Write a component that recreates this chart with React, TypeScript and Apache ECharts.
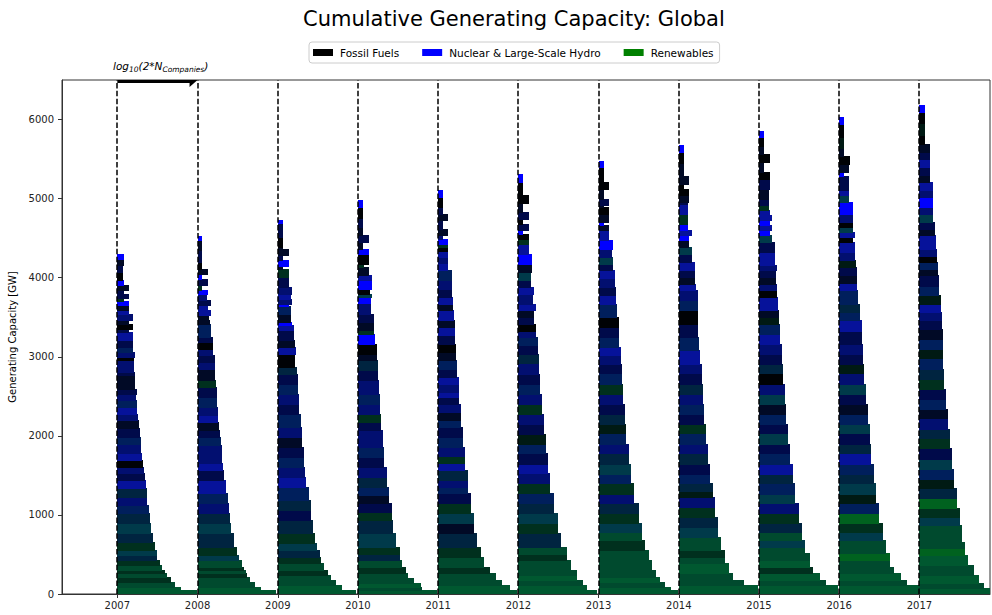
import React, { useEffect, useRef } from 'react';
import * as echarts from 'echarts';

const years = [2007, 2008, 2009, 2010, 2011, 2012, 2013, 2014, 2015, 2016, 2017];
const xTicks = years;
const yTicks = [0, 1000, 2000, 3000, 4000, 5000, 6000];
const legendNames = ['Fossil Fuels', 'Nuclear & Large-Scale Hydro', 'Renewables'];
const legendColors = ['#000000', '#0000ff', '#008000'];

// colour codes of the mixed fuel shares seen in the bands
const paletteKeys = ['B', 'b', 'n', 'N', 'k', 'K', 'c', 's', 't', 'e', 'g', 'G', 'H', 'J'];
const paletteHex = ['#0000ff', '#06129a', '#020f70', '#000a4a', '#010a26', '#000205', '#001f5c', '#002440', '#003a4a', '#001a14', '#00301e', '#004a2e', '#005830', '#00621f'];

// [band top GW, band width in years, colour code]; band bottom = next band top (last band ends at 0)
const bands2007: [number, number, string][] = [
  [4303, 0.083, 'B'], [4240, 0.08, 'k'], [4155, 0.075, 'N'], [4071, 0.075, 'K'], [3966, 0.08, 'B'],
  [3903, 0.15, 'k'], [3848, 0.08, 'N'], [3798, 0.15, 'N'], [3747, 0.08, 'g'], [3705, 0.15, 'B'],
  [3650, 0.145, 'k'], [3587, 0.145, 'b'], [3537, 0.19, 'n'], [3469, 0.145, 'k'], [3419, 0.19, 'K'],
  [3356, 0.145, 'N'], [3314, 0.19, 'b'], [3208, 0.19, 'N'], [3124, 0.19, 'c'], [3061, 0.22, 'n'],
  [2998, 0.21, 'K'], [2956, 0.21, 'n'], [2808, 0.22, 'N'], [2766, 0.22, 'k'], [2598, 0.25, 'N'],
  [2535, 0.23, 'n'], [2450, 0.25, 'c'], [2366, 0.25, 'b'], [2282, 0.26, 'n'], [2198, 0.27, 'k'],
  [2093, 0.28, 'N'], [1987, 0.29, 'c'], [1903, 0.3, 'n'], [1777, 0.31, 'b'], [1693, 0.32, 'K'],
  [1609, 0.33, 'n'], [1524, 0.345, 'N'], [1440, 0.355, 'b'], [1335, 0.365, 's'], [1229, 0.375, 'n'],
  [1124, 0.39, 'c'], [1019, 0.405, 's'], [893, 0.425, 't'], [766, 0.45, 's'], [661, 0.47, 'g'],
  [556, 0.49, 't'], [493, 0.5, 's'], [429, 0.53, 'g'], [366, 0.56, 'G'], [303, 0.59, 'g'],
  [261, 0.625, 'G'], [210, 0.67, 'g'], [156, 0.72, 'G'], [93, 0.79, 'H'], [51, 0.99, 'H'],
];
const bands2008: [number, number, string][] = [
  [4522, 0.054, 'B'], [4471, 0.054, 'k'], [4350, 0.054, 'N'], [4200, 0.054, 'K'], [4113, 0.125, 'k'],
  [4050, 0.054, 'B'], [3987, 0.125, 'N'], [3903, 0.06, 'g'], [3848, 0.125, 'B'], [3798, 0.12, 'n'],
  [3713, 0.167, 'N'], [3650, 0.125, 'b'], [3587, 0.167, 'b'], [3524, 0.146, 'k'], [3461, 0.154, 'k'],
  [3419, 0.167, 'c'], [3250, 0.19, 'N'], [3187, 0.19, 'K'], [3103, 0.196, 'n'], [3019, 0.213, 'N'],
  [2935, 0.217, 'n'], [2850, 0.22, 'k'], [2703, 0.23, 'g'], [2619, 0.24, 'N'], [2490, 0.24, 'c'],
  [2366, 0.25, 'n'], [2261, 0.26, 'b'], [2177, 0.27, 'k'], [2072, 0.28, 'N'], [1987, 0.29, 'c'],
  [1880, 0.3, 'n'], [1777, 0.31, 'n'], [1660, 0.32, 'b'], [1566, 0.33, 'N'], [1440, 0.355, 'b'],
  [1272, 0.375, 'c'], [1145, 0.39, 'n'], [1019, 0.4, 's'], [893, 0.42, 't'], [766, 0.46, 's'],
  [598, 0.49, 'g'], [493, 0.52, 't'], [429, 0.55, 'G'], [345, 0.58, 'g'], [303, 0.6, 'G'],
  [261, 0.62, 'g'], [210, 0.66, 'G'], [156, 0.72, 'G'], [93, 0.79, 'H'], [51, 0.98, 'H'],
];
const bands2009: [number, number, string][] = [
  [4732, 0.067, 'B'], [4690, 0.067, 'N'], [4520, 0.067, 'K'], [4387, 0.067, 'k'], [4366, 0.14, 'k'],
  [4282, 0.067, 'N'], [4219, 0.14, 'B'], [4143, 0.07, 'k'], [4113, 0.14, 'g'], [4008, 0.14, 'N'],
  [3882, 0.18, 'n'], [3798, 0.16, 'b'], [3735, 0.18, 'n'], [3672, 0.14, 'B'], [3638, 0.17, 'c'],
  [3545, 0.17, 'k'], [3440, 0.18, 'B'], [3398, 0.2, 'b'], [3335, 0.2, 'N'], [3208, 0.22, 'k'],
  [3124, 0.225, 'b'], [3040, 0.22, 'K'], [2872, 0.24, 's'], [2787, 0.25, 'N'], [2661, 0.25, 'c'],
  [2535, 0.26, 'n'], [2408, 0.265, 'N'], [2282, 0.29, 'c'], [2114, 0.3, 'n'], [1987, 0.305, 'k'],
  [1861, 0.325, 'N'], [1735, 0.33, 'c'], [1609, 0.345, 'n'], [1482, 0.35, 'b'], [1356, 0.39, 'c'],
  [1187, 0.41, 's'], [1061, 0.42, 'N'], [935, 0.44, 's'], [766, 0.47, 'g'], [640, 0.49, 't'],
  [556, 0.525, 's'], [472, 0.54, 'g'], [387, 0.575, 'G'], [303, 0.63, 'g'], [240, 0.66, 'G'],
  [177, 0.72, 'G'], [114, 0.8, 'H'], [51, 0.98, 'H'],
];
const bands2010: [number, number, string][] = [
  [4985, 0.0625, 'B'], [4892, 0.0625, 'K'], [4750, 0.0625, 'N'], [4640, 0.0625, 'k'], [4534, 0.14, 'N'],
  [4450, 0.0625, 'k'], [4366, 0.14, 'B'], [4303, 0.14, 'K'], [4177, 0.07, 'g'], [4135, 0.14, 'k'],
  [4029, 0.18, 'b'], [3966, 0.175, 'B'], [3861, 0.146, 'K'], [3798, 0.18, 't'], [3756, 0.167, 'B'],
  [3680, 0.167, 'n'], [3545, 0.196, 'N'], [3440, 0.196, 'k'], [3335, 0.2, 'g'], [3292, 0.21, 'B'],
  [3166, 0.24, 'K'], [3040, 0.24, 'k'], [2956, 0.25, 's'], [2830, 0.25, 'N'], [2703, 0.26, 'n'],
  [2535, 0.28, 'c'], [2408, 0.28, 'n'], [2282, 0.29, 'g'], [2180, 0.29, 'N'], [2071, 0.31, 'n'],
  [1861, 0.33, 'c'], [1735, 0.33, 'N'], [1609, 0.36, 'n'], [1482, 0.36, 's'], [1356, 0.39, 'c'],
  [1250, 0.39, 'k'], [1145, 0.42, 'N'], [1040, 0.42, 'g'], [935, 0.44, 's'], [766, 0.48, 't'],
  [598, 0.52, 'g'], [510, 0.52, 's'], [429, 0.555, 'G'], [345, 0.6, 'g'], [261, 0.625, 'G'],
  [198, 0.7, 'G'], [135, 0.78, 'H'], [93, 0.8, 'G'], [51, 0.98, 'H'],
];
const bands2011: [number, number, string][] = [
  [5111, 0.054, 'B'], [5019, 0.054, 'K'], [4900, 0.054, 'N'], [4808, 0.125, 'k'], [4732, 0.054, 'N'],
  [4619, 0.125, 'k'], [4534, 0.06, 'n'], [4492, 0.125, 'B'], [4429, 0.125, 'g'], [4387, 0.125, 'K'],
  [4340, 0.125, 'b'], [4261, 0.125, 'n'], [4180, 0.125, 'b'], [4093, 0.167, 'c'], [3966, 0.167, 'n'],
  [3860, 0.167, 'N'], [3756, 0.19, 'b'], [3670, 0.19, 'k'], [3587, 0.2, 'b'], [3461, 0.21, 'k'],
  [3377, 0.21, 'b'], [3270, 0.21, 'N'], [3166, 0.22, 'K'], [3060, 0.22, 'k'], [2956, 0.24, 'c'],
  [2850, 0.24, 'N'], [2745, 0.26, 'b'], [2660, 0.26, 'n'], [2560, 0.26, 'b'], [2490, 0.26, 'N'],
  [2408, 0.28, 'n'], [2300, 0.28, 'k'], [2200, 0.28, 'c'], [2114, 0.31, 'N'], [1990, 0.31, 'c'],
  [1861, 0.34, 'n'], [1750, 0.34, 'g'], [1660, 0.34, 'b'], [1566, 0.37, 's'], [1440, 0.37, 'n'],
  [1350, 0.37, 'c'], [1272, 0.41, 'N'], [1145, 0.41, 'g'], [1019, 0.45, 't'], [893, 0.45, 'k'],
  [766, 0.49, 's'], [598, 0.53, 'g'], [472, 0.575, 'G'], [345, 0.64, 'g'], [261, 0.72, 'G'],
  [177, 0.8, 'G'], [114, 0.9, 'H'], [51, 0.98, 'H'],
];
const bands2012: [number, number, string][] = [
  [5313, 0.0625, 'B'], [5208, 0.0625, 'K'], [5040, 0.13, 'K'], [4943, 0.0625, 'k'], [4829, 0.13, 'N'],
  [4745, 0.0625, 'K'], [4682, 0.13, 'N'], [4598, 0.0625, 'B'], [4556, 0.13, 'K'], [4492, 0.13, 'g'],
  [4429, 0.13, 'b'], [4303, 0.167, 'B'], [4177, 0.167, 'k'], [4071, 0.16, 't'], [3966, 0.16, 'N'],
  [3882, 0.19, 'b'], [3798, 0.185, 'n'], [3672, 0.22, 'b'], [3587, 0.2, 'k'], [3500, 0.2, 'N'],
  [3419, 0.22, 'K'], [3330, 0.22, 'n'], [3250, 0.245, 'c'], [3145, 0.245, 'N'], [3040, 0.255, 's'],
  [2920, 0.255, 'n'], [2787, 0.275, 'N'], [2660, 0.275, 'c'], [2535, 0.3, 'n'], [2408, 0.3, 'g'],
  [2282, 0.32, 'n'], [2150, 0.32, 'N'], [2029, 0.35, 'e'], [1900, 0.35, 'c'], [1777, 0.375, 'N'],
  [1650, 0.375, 'b'], [1524, 0.4, 'n'], [1400, 0.4, 'g'], [1272, 0.44, 'c'], [1145, 0.44, 's'],
  [1019, 0.49, 't'], [893, 0.49, 'g'], [766, 0.53, 's'], [598, 0.6, 'G'], [510, 0.6, 'g'],
  [429, 0.66, 'G'], [303, 0.73, 'G'], [240, 0.73, 'H'], [177, 0.81, 'G'], [114, 0.85, 'H'],
  [51, 0.98, 'H'],
];
const bands2013: [number, number, string][] = [
  [5482, 0.0625, 'B'], [5398, 0.0625, 'K'], [5208, 0.133, 'K'], [5124, 0.0625, 'k'], [4998, 0.133, 'N'],
  [4913, 0.07, 'k'], [4892, 0.133, 'K'], [4808, 0.133, 'k'], [4703, 0.0625, 'B'], [4661, 0.133, 'k'],
  [4598, 0.133, 'b'], [4471, 0.175, 'B'], [4366, 0.167, 'n'], [4261, 0.175, 't'], [4177, 0.175, 'N'],
  [4093, 0.21, 'b'], [3990, 0.21, 'n'], [3882, 0.217, 'N'], [3780, 0.217, 'b'], [3672, 0.23, 'c'],
  [3503, 0.25, 'K'], [3377, 0.258, 'N'], [3250, 0.258, 'c'], [3124, 0.28, 'b'], [3020, 0.28, 'n'],
  [2914, 0.29, 'N'], [2790, 0.29, 'c'], [2661, 0.305, 'g'], [2530, 0.305, 'n'], [2408, 0.325, 'N'],
  [2280, 0.325, 's'], [2156, 0.345, 'e'], [2030, 0.345, 'c'], [1903, 0.375, 'n'], [1780, 0.375, 's'],
  [1650, 0.405, 't'], [1520, 0.405, 'c'], [1398, 0.445, 'g'], [1270, 0.445, 'n'], [1145, 0.5, 's'],
  [1020, 0.5, 'g'], [893, 0.54, 't'], [790, 0.54, 'G'], [682, 0.58, 'g'], [556, 0.625, 'G'],
  [429, 0.665, 'G'], [303, 0.71, 'G'], [219, 0.77, 'H'], [156, 0.83, 'G'], [93, 0.9, 'H'],
  [51, 0.99, 'H'],
];
const bands2014: [number, number, string][] = [
  [5684, 0.0625, 'B'], [5587, 0.0625, 'K'], [5450, 0.0625, 'k'], [5292, 0.133, 'k'], [5187, 0.0625, 'K'],
  [5124, 0.133, 'K'], [5040, 0.133, 'k'], [4955, 0.117, 'N'], [4934, 0.117, 'b'], [4808, 0.117, 'g'],
  [4682, 0.117, 'B'], [4598, 0.167, 'b'], [4534, 0.133, 'B'], [4471, 0.133, 'k'], [4387, 0.167, 't'],
  [4303, 0.167, 'N'], [4198, 0.196, 'b'], [4093, 0.196, 'N'], [4010, 0.196, 'k'], [3924, 0.217, 'b'],
  [3840, 0.24, 'n'], [3715, 0.24, 'c'], [3587, 0.24, 'K'], [3419, 0.245, 'N'], [3250, 0.258, 'c'],
  [3082, 0.27, 'b'], [2914, 0.287, 'n'], [2790, 0.287, 'N'], [2661, 0.3, 's'], [2530, 0.3, 'n'],
  [2408, 0.32, 'c'], [2280, 0.32, 'N'], [2156, 0.34, 'g'], [2030, 0.34, 'c'], [1903, 0.367, 'n'],
  [1780, 0.367, 's'], [1650, 0.39, 'N'], [1520, 0.39, 'c'], [1398, 0.425, 's'], [1300, 0.425, 'e'],
  [1229, 0.455, 'n'], [1100, 0.455, 'g'], [977, 0.49, 's'], [850, 0.49, 't'], [724, 0.53, 'G'],
  [556, 0.57, 'g'], [470, 0.57, 'G'], [387, 0.63, 'H'], [261, 0.68, 'G'], [177, 0.81, 'G'],
  [114, 0.99, 'H'],
];
const bands2015: [number, number, string][] = [
  [5861, 0.0625, 'B'], [5777, 0.0625, 'K'], [5660, 0.0625, 'k'], [5566, 0.133, 'K'], [5461, 0.0625, 'k'],
  [5334, 0.133, 'K'], [5250, 0.133, 'N'], [5124, 0.125, 'k'], [5000, 0.125, 'N'], [4913, 0.125, 'g'],
  [4850, 0.133, 'b'], [4787, 0.167, 'b'], [4724, 0.133, 'B'], [4661, 0.167, 'b'], [4598, 0.142, 'B'],
  [4534, 0.167, 't'], [4450, 0.196, 'N'], [4324, 0.196, 'b'], [4156, 0.225, 'n'], [4093, 0.217, 'N'],
  [4010, 0.217, 'k'], [3924, 0.229, 'n'], [3840, 0.229, 'K'], [3756, 0.237, 'b'], [3587, 0.25, 'k'],
  [3500, 0.25, 'e'], [3419, 0.267, 'c'], [3290, 0.267, 'b'], [3166, 0.287, 'n'], [3040, 0.287, 'N'],
  [2914, 0.3, 's'], [2790, 0.3, 'K'], [2661, 0.32, 'n'], [2530, 0.32, 't'], [2408, 0.342, 'k'],
  [2280, 0.342, 'c'], [2156, 0.362, 'N'], [2030, 0.362, 't'], [1903, 0.392, 'N'], [1780, 0.392, 'c'],
  [1650, 0.425, 'b'], [1520, 0.425, 's'], [1398, 0.454, 'c'], [1270, 0.454, 't'], [1145, 0.5, 'n'],
  [1020, 0.5, 'g'], [893, 0.54, 's'], [790, 0.54, 'G'], [682, 0.57, 't'], [600, 0.57, 'G'],
  [514, 0.63, 'G'], [430, 0.63, 'H'], [345, 0.675, 'g'], [261, 0.76, 'H'], [177, 0.84, 'G'],
  [114, 0.99, 'H'],
];
const bands2016: [number, number, string][] = [
  [6038, 0.0625, 'B'], [5945, 0.0625, 'K'], [5780, 0.0625, 'e'], [5640, 0.0625, 'k'], [5545, 0.133, 'K'],
  [5440, 0.125, 'k'], [5334, 0.0625, 'B'], [5292, 0.125, 'N'], [5103, 0.125, 'b'], [5040, 0.125, 't'],
  [4955, 0.167, 'B'], [4808, 0.167, 'n'], [4703, 0.167, 'K'], [4640, 0.167, 't'], [4577, 0.196, 'b'],
  [4513, 0.167, 'K'], [4450, 0.196, 'b'], [4330, 0.196, 'n'], [4219, 0.21, 'e'], [4135, 0.225, 'N'],
  [4030, 0.225, 'k'], [3930, 0.225, 'b'], [3840, 0.237, 'c'], [3672, 0.258, 's'], [3560, 0.258, 'c'],
  [3461, 0.28, 'b'], [3330, 0.28, 'N'], [3166, 0.3, 'n'], [3040, 0.3, 'N'], [2914, 0.31, 'e'],
  [2790, 0.31, 'n'], [2661, 0.34, 't'], [2530, 0.34, 'N'], [2408, 0.36, 'k'], [2280, 0.36, 'c'],
  [2156, 0.38, 't'], [2030, 0.38, 'N'], [1903, 0.4, 's'], [1780, 0.4, 'b'], [1650, 0.43, 'c'],
  [1520, 0.43, 's'], [1398, 0.46, 't'], [1270, 0.46, 'e'], [1145, 0.5, 'c'], [1020, 0.5, 'J'],
  [893, 0.54, 'g'], [790, 0.54, 't'], [682, 0.585, 'G'], [514, 0.63, 'J'], [430, 0.63, 'G'],
  [345, 0.68, 'G'], [261, 0.77, 'H'], [177, 0.84, 'G'], [114, 0.99, 'H'],
];
const bands2017: [number, number, string][] = [
  [6185, 0.07, 'B'], [6093, 0.07, 'K'], [5950, 0.07, 'e'], [5800, 0.07, 'K'], [5692, 0.133, 'k'],
  [5587, 0.133, 'N'], [5503, 0.133, 'b'], [5397, 0.133, 'N'], [5300, 0.133, 'k'], [5208, 0.175, 'b'],
  [5110, 0.175, 'n'], [5019, 0.175, 'B'], [4892, 0.175, 'n'], [4808, 0.175, 't'], [4703, 0.2, 'N'],
  [4620, 0.2, 'k'], [4534, 0.208, 'b'], [4366, 0.217, 'n'], [4280, 0.217, 'K'], [4197, 0.237, 'c'],
  [4110, 0.237, 'k'], [4029, 0.25, 'N'], [3900, 0.25, 'c'], [3776, 0.267, 'e'], [3670, 0.267, 'b'],
  [3566, 0.279, 'n'], [3460, 0.279, 'N'], [3355, 0.292, 'k'], [3230, 0.292, 'c'], [3103, 0.3, 'e'],
  [2980, 0.3, 'c'], [2850, 0.312, 's'], [2720, 0.312, 'g'], [2597, 0.333, 'N'], [2470, 0.333, 'c'],
  [2345, 0.36, 'k'], [2220, 0.36, 'n'], [2092, 0.383, 's'], [1970, 0.383, 'g'], [1840, 0.404, 'N'],
  [1710, 0.404, 't'], [1587, 0.425, 'c'], [1460, 0.425, 'e'], [1335, 0.467, 's'], [1210, 0.467, 'J'],
  [1082, 0.5, 'g'], [980, 0.5, 't'], [872, 0.53, 'G'], [661, 0.57, 'G'], [580, 0.57, 'J'],
  [493, 0.61, 'H'], [366, 0.675, 'G'], [240, 0.74, 'H'], [135, 0.8, 'G'], [72, 0.99, 'H'],
];
const bandsByYear = [bands2007, bands2008, bands2009, bands2010, bands2011, bands2012, bands2013, bands2014, bands2015, bands2016, bands2017];

const FONT = 'DejaVu Sans';

export default function App() {
  const ref = useRef<HTMLDivElement>(null);
  useEffect(() => {
    const chart = echarts.init(ref.current as HTMLDivElement, null, { renderer: 'svg' });
    // one entry per year: [year, index of year]; each year's bands are drawn as one group
    const yearData = years.map((y, i) => [y, i]);

    const option: any = {
      animation: false,
      backgroundColor: '#ffffff',
      textStyle: { fontFamily: FONT },
      title: {
        text: 'Cumulative Generating Capacity: Global',
        left: 303,
        top: 8,
        padding: 0,
        textStyle: { fontFamily: FONT, fontSize: 21, fontWeight: 'normal', color: '#000' },
      },
      legend: {
        data: legendNames,
        left: 309,
        top: 42,
        icon: 'rect',
        itemWidth: 20,
        itemHeight: 7,
        itemGap: 23,
        padding: [5, 6, 5, 4],
        borderColor: '#cccccc',
        borderWidth: 1,
        borderRadius: 3,
        backgroundColor: '#ffffff',
        textStyle: { fontFamily: FONT, fontSize: 10.5, color: '#000', padding: [0, 0, 0, 2] },
      },
      grid: {
        left: 62, right: 2, top: 80, bottom: 21,
        outerBoundsMode: 'none',
        containLabel: false,
        show: true, borderColor: '#333', borderWidth: 1, backgroundColor: 'transparent',
      },
      xAxis: {
        type: 'value',
        min: 2006.31,
        max: 2017.88,
        splitLine: { show: false },
        axisLine: { show: true, onZero: false, lineStyle: { color: '#333', width: 1 } },
        axisTick: { show: true, length: 4, customValues: xTicks, lineStyle: { color: '#333' } },
        axisLabel: { customValues: xTicks, margin: 6, fontFamily: FONT, fontSize: 10, color: '#222', formatter: (v: number) => String(v) },
      },
      yAxis: {
        type: 'value',
        min: 0,
        max: 6500,
        interval: 1000,
        name: 'Generating Capacity [GW]',
        nameLocation: 'middle',
        nameGap: 38,
        nameTextStyle: { fontFamily: FONT, fontSize: 10, color: '#000' },
        splitLine: { show: false },
        axisLine: { show: true, lineStyle: { color: '#333', width: 1 } },
        axisTick: { show: true, length: 4, customValues: yTicks, lineStyle: { color: '#333' } },
        axisLabel: { customValues: yTicks, margin: 8, fontFamily: FONT, fontSize: 10, color: '#222', formatter: (v: number) => String(v) },
      },
      graphic: [
        {
          type: 'text',
          left: 113,
          top: 60,
          style: {
            text: '{a|log}{s|10}{a|(2*N}{s|Companies}{a|)}',
            fontFamily: FONT,
            fontStyle: 'italic',
            rich: {
              a: { fontFamily: FONT, fontStyle: 'italic', fontSize: 10.5, lineHeight: 16, verticalAlign: 'middle', fill: '#000' },
              s: { fontFamily: FONT, fontStyle: 'italic', fontSize: 7.5, lineHeight: 16, verticalAlign: 'bottom', fill: '#000' },
            },
          },
        },
      ],
      series: [
        {
          type: 'custom',
          name: 'bands',
          clip: true,
          z: 2,
          encode: { x: 0 },
          data: yearData,
          renderItem: (params: any, api: any) => {
            const yr = api.value(0);
            const bands = bandsByYear[api.value(1)];
            const children: any[] = [];
            // draw bottom band first, then upward, each one overlapping 1px into the band below
            for (let j = bands.length - 1; j >= 0; j--) {
              const b = bands[j];
              const bottomVal = j + 1 < bands.length ? bands[j + 1][0] : 0;
              const a = api.coord([yr, b[0]]);
              const c = api.coord([yr + b[1], bottomVal]);
              const left = Math.round(a[0]);
              const top = Math.round(a[1]);
              const right = Math.round(c[0]);
              const bottom = Math.round(c[1]);
              const col = paletteHex[paletteKeys.indexOf(b[2])];
              children.push({
                type: 'rect',
                shape: { x: left, y: top, width: right - left, height: bottom - top + (j + 1 < bands.length ? 1 : 0) },
                style: { fill: col },
              });
            }
            return { type: 'group', children };
          },
        },
        {
          type: 'custom',
          name: 'yearLines',
          clip: true,
          z: 5,
          data: years.map((y) => [y]),
          encode: { x: 0 },
          renderItem: (params: any, api: any) => {
            const yr = api.value(0);
            const p0 = api.coord([yr, 0]);
            const p1 = api.coord([yr, 6500]);
            const x = Math.round(p0[0]);
            return {
              type: 'line',
              shape: { x1: x, y1: p0[1], x2: x, y2: p1[1] },
              style: { stroke: '#000', lineWidth: 1.5, lineDash: [5.5, 2.4] },
            };
          },
        },
        {
          type: 'custom',
          name: 'arrow',
          clip: true,
          z: 6,
          data: [[2007, 2008, 6500]],
          encode: { x: [0, 1], y: 2 },
          renderItem: (params: any, api: any) => {
            const p0 = api.coord([api.value(0), api.value(2)]);
            const p1 = api.coord([api.value(1), api.value(2)]);
            const y = p0[1];
            const head = 8;
            return {
              type: 'polygon',
              shape: {
                points: [
                  [p0[0], y - 3], [p1[0] - head, y - 3], [p1[0] - head, y - 7], [p1[0], y],
                  [p1[0] - head, y + 7], [p1[0] - head, y + 3], [p0[0], y + 3],
                ],
              },
              style: { fill: '#000' },
            };
          },
        },
        ...legendNames.map((n, i) => ({
          type: 'line',
          name: n,
          data: [],
          color: legendColors[i],
          itemStyle: { color: legendColors[i] },
          lineStyle: { color: legendColors[i] },
        })),
      ],
    };
    chart.setOption(option);
    return () => chart.dispose();
  }, []);
  return <div ref={ref} style={{ position: 'fixed', left: 0, top: 0, width: 992, height: 615 }} />;
}
